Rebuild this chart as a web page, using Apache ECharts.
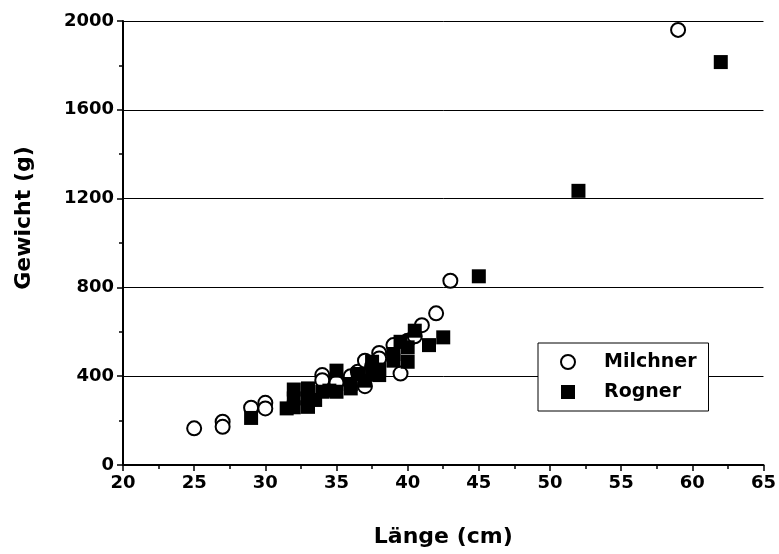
<!DOCTYPE html>
<html><head><meta charset="utf-8">
<script src="https://cdn.jsdelivr.net/npm/echarts@6/dist/echarts.min.js"></script>
<style>html,body{margin:0;padding:0;background:#fff}#c{width:779px;height:554px}</style>
</head><body><div id="c"></div>
<script>
const milchner = [[25,165],[27,195],[27,172],[29,258],[30,280],[30,255],[34,405],[34,382],[35,385],[35,370],[36,400],[36.5,420],[37,470],[37,355],[37.5,445],[38,505],[38,480],[39,540],[39.5,412],[40,560],[40.5,580],[41,630],[42,683],[43,830],[59,1960]];
const rogner = [[29,212],[31.5,255],[32,340],[32,300],[32,260],[33,345],[33,300],[33,262],[33.5,293],[34,330],[34.5,335],[35,425],[35,330],[36,365],[36,345],[36.5,410],[37,380],[37.5,465],[37.5,410],[38,430],[38,405],[39,470],[39,500],[39.5,555],[40,465],[40,530],[40.5,605],[41.5,540],[42.5,575],[45,850],[52,1235],[62,1815]];
const seriesNames = ['Milchner','Rogner'];
const xTitle = 'Länge (cm)';
const yTitle = 'Gewicht (g)';
const ff = 'DejaVu Sans, sans-serif';
const chart = echarts.init(document.getElementById('c'));
chart.setOption({
  animation:false,
  backgroundColor:'#fff',
  grid:{left:123,right:13,top:21,bottom:89},
  legend:{
    orient:'vertical', left:538, top:343,
    backgroundColor:'#fff', borderColor:'#000', borderWidth:1,
    padding:[9,12,9,22], itemGap:10, itemWidth:14, itemHeight:14,
    textStyle:{fontFamily:ff,fontWeight:'bold',fontSize:19,color:'#000',padding:[0,0,0,24],lineHeight:20},
    data:seriesNames
  },
  xAxis:{
    type:'value', min:20, max:65, interval:5,
    name:xTitle, nameLocation:'middle', nameGap:61,
    nameTextStyle:{fontFamily:ff,fontWeight:'bold',fontSize:22,color:'#000'},
    axisLine:{lineStyle:{color:'#000',width:2}},
    axisTick:{inside:false,length:6,lineStyle:{color:'#000',width:1.5}},
    minorTick:{show:true,splitNumber:2,length:4,lineStyle:{color:'#000',width:1.5}},
    axisLabel:{fontFamily:ff,fontWeight:'bold',fontSize:18,color:'#000',margin:9},
    splitLine:{show:false}
  },
  yAxis:{
    type:'value', min:0, max:2000, interval:400,
    name:yTitle, nameLocation:'middle', nameGap:88,
    nameTextStyle:{fontFamily:ff,fontWeight:'bold',fontSize:22,color:'#000',padding:[0,0,0,50]},
    axisLine:{show:true,lineStyle:{color:'#000',width:2}},
    axisTick:{show:true,inside:false,length:6,lineStyle:{color:'#000',width:1.5}},
    minorTick:{show:true,splitNumber:2,length:4,lineStyle:{color:'#000',width:1.5}},
    axisLabel:{fontFamily:ff,fontWeight:'bold',fontSize:18,color:'#000',margin:9,formatter:v=>String(v)},
    splitLine:{show:true,lineStyle:{color:'#000',width:1}}
  },
  series:[
    {name:seriesNames[0],type:'scatter',symbol:'emptyCircle',symbolSize:14,
     itemStyle:{color:'#000',borderColor:'#000',borderWidth:2.8,opacity:1},data:milchner,z:3},
    {name:seriesNames[1],type:'scatter',symbol:'rect',symbolSize:14,
     itemStyle:{color:'#000',opacity:1},data:rogner,z:4}
  ]
});
</script></body></html>
